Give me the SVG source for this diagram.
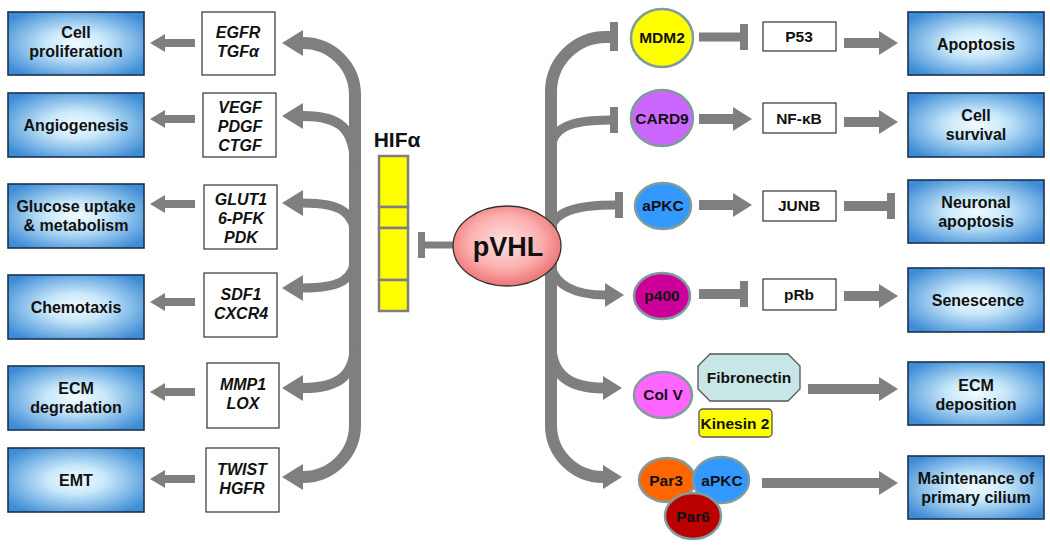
<svg xmlns="http://www.w3.org/2000/svg" width="1050" height="546" viewBox="0 0 1050 546">
<style>
.bb{stroke:#1c3150;stroke-width:1.6;fill:url(#bg)}
.gb{fill:#fff;stroke:#333;stroke-width:1.2}
.t{font-family:"Liberation Sans",Arial,sans-serif;font-weight:bold;fill:#111;text-anchor:middle}
.bt{font-size:16px}
.gt{font-size:16px;font-style:italic}
.nt{font-size:15.5px}
.c{fill:none;stroke:#7f7f7f;stroke-linecap:butt}
.el{stroke:#7f9c9c;stroke-width:2.5}
</style>
<defs>
<radialGradient id="bg" cx="50%" cy="50%" r="62%">
<stop offset="0" stop-color="#f2fbff"/>
<stop offset="0.35" stop-color="#c8e8fa"/>
<stop offset="1" stop-color="#3d8cd6"/>
</radialGradient>
<radialGradient id="pg" cx="48%" cy="45%" r="55%">
<stop offset="0" stop-color="#ffe0e0"/>
<stop offset="0.6" stop-color="#fbb0b0"/>
<stop offset="1" stop-color="#ee7474"/>
</radialGradient>
<marker id="aL" viewBox="0 -14 22 28" refX="0" refY="0" markerWidth="22" markerHeight="28" markerUnits="userSpaceOnUse" orient="auto-start-reverse" overflow="visible">
<path d="M0,-13 L21,0 L0,13 z" fill="#7f7f7f"/>
</marker>
<marker id="aM" viewBox="0 -13 20 26" refX="0" refY="0" markerWidth="20" markerHeight="26" markerUnits="userSpaceOnUse" orient="auto" overflow="visible">
<path d="M0,-12 L19,0 L0,12 z" fill="#7f7f7f"/>
</marker>
<marker id="aS" viewBox="0 -9 15 18" refX="0" refY="0" markerWidth="15" markerHeight="18" markerUnits="userSpaceOnUse" orient="auto" overflow="visible">
<path d="M0,-9 L15,0 L0,9 z" fill="#7f7f7f"/>
</marker>
<marker id="tb" viewBox="0 -14 8 28" refX="0" refY="0" markerWidth="8" markerHeight="28" markerUnits="userSpaceOnUse" orient="auto" overflow="visible">
<rect x="0" y="-13" width="8" height="26" fill="#7f7f7f"/>
</marker>
</defs>
<rect width="1050" height="546" fill="#fff"/>

<g id="connectors">
<path class="c" stroke-width="12" d="M303,43 A52,52 0 0 1 355,95 L355,425 A52,52 0 0 1 303,477" marker-start="url(#aL)" marker-end="url(#aL)"/>
<path class="c" stroke-width="10" d="M355,168 C355,128 340,116 303,116" marker-end="url(#aL)"/>
<path class="c" stroke-width="9" d="M355,238 C355,212 340,203 303,203" marker-end="url(#aL)"/>
<path class="c" stroke-width="9" d="M355,255 C355,280 340,288 303,288" marker-end="url(#aL)"/>
<path class="c" stroke-width="10" d="M355,342 C355,375 340,388 303,388" marker-end="url(#aL)"/>
<path class="c" stroke-width="8" d="M195,43 H165" marker-end="url(#aS)"/>
<path class="c" stroke-width="8" d="M195,119 H165" marker-end="url(#aS)"/>
<path class="c" stroke-width="8" d="M195,204 H165" marker-end="url(#aS)"/>
<path class="c" stroke-width="8" d="M195,302 H165" marker-end="url(#aS)"/>
<path class="c" stroke-width="8" d="M195,392 H165" marker-end="url(#aS)"/>
<path class="c" stroke-width="8" d="M195,479 H165" marker-end="url(#aS)"/>
<path class="c" stroke-width="7" d="M456,245 H424"/>
<rect x="418" y="232" width="7" height="26" fill="#7f7f7f"/>
<path class="c" stroke-width="12" d="M610,37 L606,37 A55,55 0 0 0 551,92 L551,425 A52,52 0 0 0 603,477" marker-end="url(#aM)"/>
<rect x="610" y="22" width="8" height="29" fill="#7f7f7f"/>
<path class="c" stroke-width="9" d="M551,150 C551,128 570,120 610,120" marker-end="url(#tb)"/>
<path class="c" stroke-width="9" d="M551,228 C555,212 575,205 615,205" marker-end="url(#tb)"/>
<path class="c" stroke-width="9" d="M551,266 C555,285 575,295 605,295" marker-end="url(#aM)"/>
<path class="c" stroke-width="11" d="M551,345 C551,375 570,388 603,388" marker-end="url(#aM)"/>
<path class="c" stroke-width="9" d="M699,37 H740" marker-end="url(#tb)"/>
<path class="c" stroke-width="10" d="M844,43 H879" marker-end="url(#aM)"/>
<path class="c" stroke-width="10" d="M699,119 H733" marker-end="url(#aM)"/>
<path class="c" stroke-width="10" d="M844,122 H879" marker-end="url(#aM)"/>
<path class="c" stroke-width="10" d="M699,205 H733" marker-end="url(#aM)"/>
<path class="c" stroke-width="10" d="M844,206 H887" marker-end="url(#tb)"/>
<path class="c" stroke-width="10" d="M699,294 H740" marker-end="url(#tb)"/>
<path class="c" stroke-width="10" d="M844,296 H879" marker-end="url(#aM)"/>
<path class="c" stroke-width="10" d="M808,389 H879" marker-end="url(#aM)"/>
<path class="c" stroke-width="10" d="M762,483 H879" marker-end="url(#aM)"/>
</g>

<g id="cell-proliferation"><rect class="bb" x="8" y="12" width="136" height="63"/><text class="t bt" x="76" y="38">Cell</text><text class="t bt" x="76" y="57">proliferation</text></g>
<g id="angiogenesis"><rect class="bb" x="8" y="93" width="136" height="64"/><text class="t bt" x="76" y="131">Angiogenesis</text></g>
<g id="glucose"><rect class="bb" x="8" y="184" width="136" height="64"/><text class="t bt" x="76" y="212">Glucose uptake</text><text class="t bt" x="76" y="231">&amp; metabolism</text></g>
<g id="chemotaxis"><rect class="bb" x="8" y="275" width="136" height="64"/><text class="t bt" x="76" y="313">Chemotaxis</text></g>
<g id="ecm-degradation"><rect class="bb" x="8" y="366" width="136" height="64"/><text class="t bt" x="76" y="394">ECM</text><text class="t bt" x="76" y="413">degradation</text></g>
<g id="emt"><rect class="bb" x="8" y="448" width="136" height="64"/><text class="t bt" x="76" y="486">EMT</text></g>

<g id="egfr"><rect class="gb" x="202" y="12" width="73" height="63"/><text class="t gt" x="238" y="38">EGFR</text><text class="t gt" x="238" y="57">TGFα</text></g>
<g id="vegf"><rect class="gb" x="203" y="93" width="73" height="64"/><text class="t gt" x="240" y="113">VEGF</text><text class="t gt" x="240" y="132">PDGF</text><text class="t gt" x="240" y="151">CTGF</text></g>
<g id="glut1"><rect class="gb" x="204" y="185" width="73" height="64"/><text class="t gt" x="241" y="205">GLUT1</text><text class="t gt" x="241" y="224">6-PFK</text><text class="t gt" x="241" y="243">PDK</text></g>
<g id="sdf1"><rect class="gb" x="204" y="273" width="73" height="64"/><text class="t gt" x="241" y="300">SDF1</text><text class="t gt" x="241" y="319">CXCR4</text></g>
<g id="mmp1"><rect class="gb" x="207" y="363" width="72" height="65"/><text class="t gt" x="243" y="390">MMP1</text><text class="t gt" x="243" y="409">LOX</text></g>
<g id="twist"><rect class="gb" x="206" y="448" width="73" height="64"/><text class="t gt" x="242" y="475">TWIST</text><text class="t gt" x="242" y="494">HGFR</text></g>

<g id="hif">
<text class="t" x="397" y="147" font-size="21">HIFα</text>
<g fill="#ffff00" stroke="#7f7f7f" stroke-width="2.5">
<rect x="379" y="156" width="29" height="51"/>
<rect x="379" y="207" width="29" height="21"/>
<rect x="379" y="228" width="29" height="52"/>
<rect x="379" y="280" width="29" height="31"/>
</g>
</g>

<g id="pvhl"><ellipse cx="507" cy="246" rx="54" ry="40" fill="url(#pg)" stroke="#333" stroke-width="1.3"/><text class="t" x="508" y="256" font-size="27">pVHL</text></g>

<g id="mdm2"><ellipse class="el" cx="662" cy="38" rx="31" ry="29" fill="#ffff00"/><text class="t nt" x="662" y="43">MDM2</text></g>
<g id="card9"><ellipse class="el" cx="662" cy="118" rx="31" ry="28" fill="#cc66ff"/><text class="t nt" x="662" y="124">CARD9</text></g>
<g id="apkc1"><ellipse class="el" cx="663" cy="206" rx="28" ry="23" fill="#3399ff"/><text class="t nt" x="663" y="211">aPKC</text></g>
<g id="p400"><ellipse class="el" cx="662" cy="296" rx="28" ry="23" fill="#cc0099"/><text class="t nt" x="662" y="301">p400</text></g>
<g id="colv"><ellipse class="el" cx="663" cy="395" rx="29" ry="23" fill="#ff66ff"/><text class="t nt" x="663" y="400">Col V</text></g>
<g id="fibronectin"><polygon points="710,354 788,354 800,366 800,389 788,401 710,401 698,389 698,366" fill="#c8e6e6" stroke="#555" stroke-width="1.3"/><text class="t nt" x="749" y="383">Fibronectin</text></g>
<g id="kinesin2"><rect x="699" y="409" width="73" height="28" rx="4" fill="#ffff00" stroke="#555" stroke-width="1.3"/><text class="t nt" x="735" y="429">Kinesin 2</text></g>
<g id="par3"><ellipse class="el" cx="667" cy="480" rx="28" ry="22" fill="#ff6600"/><text class="t nt" x="666" y="486">Par3</text></g>
<g id="apkc2"><ellipse class="el" cx="721" cy="480" rx="28" ry="23" fill="#3399ff"/><text class="t nt" x="722" y="486">aPKC</text></g>
<g id="par6"><ellipse class="el" cx="693" cy="516" rx="28" ry="23" fill="#bb0000"/><text class="t nt" x="693" y="522">Par6</text></g>

<g id="p53"><rect class="gb" x="763" y="22" width="73" height="29"/><text class="t nt" x="799" y="42">P53</text></g>
<g id="nfkb"><rect class="gb" x="763" y="103" width="73" height="30"/><text class="t nt" x="799" y="124">NF-κB</text></g>
<g id="junb"><rect class="gb" x="763" y="191" width="73" height="30"/><text class="t nt" x="799" y="211">JUNB</text></g>
<g id="prb"><rect class="gb" x="763" y="279" width="73" height="31"/><text class="t nt" x="799" y="300">pRb</text></g>

<g id="apoptosis"><rect class="bb" x="908" y="12" width="136" height="63"/><text class="t bt" x="976" y="50">Apoptosis</text></g>
<g id="cell-survival"><rect class="bb" x="908" y="93" width="136" height="64"/><text class="t bt" x="976" y="121">Cell</text><text class="t bt" x="976" y="140">survival</text></g>
<g id="neuronal-apoptosis"><rect class="bb" x="908" y="180" width="136" height="63"/><text class="t bt" x="976" y="208">Neuronal</text><text class="t bt" x="976" y="227">apoptosis</text></g>
<g id="senescence"><rect class="bb" x="908" y="268" width="136" height="64"/><text class="t bt" x="978" y="306">Senescence</text></g>
<g id="ecm-deposition"><rect class="bb" x="908" y="362" width="136" height="63"/><text class="t bt" x="976" y="391">ECM</text><text class="t bt" x="976" y="410">deposition</text></g>
<g id="cilium"><rect class="bb" x="908" y="456" width="136" height="63"/><text class="t bt" x="976" y="484">Maintenance of</text><text class="t bt" x="976" y="503">primary cilium</text></g>
</svg>
